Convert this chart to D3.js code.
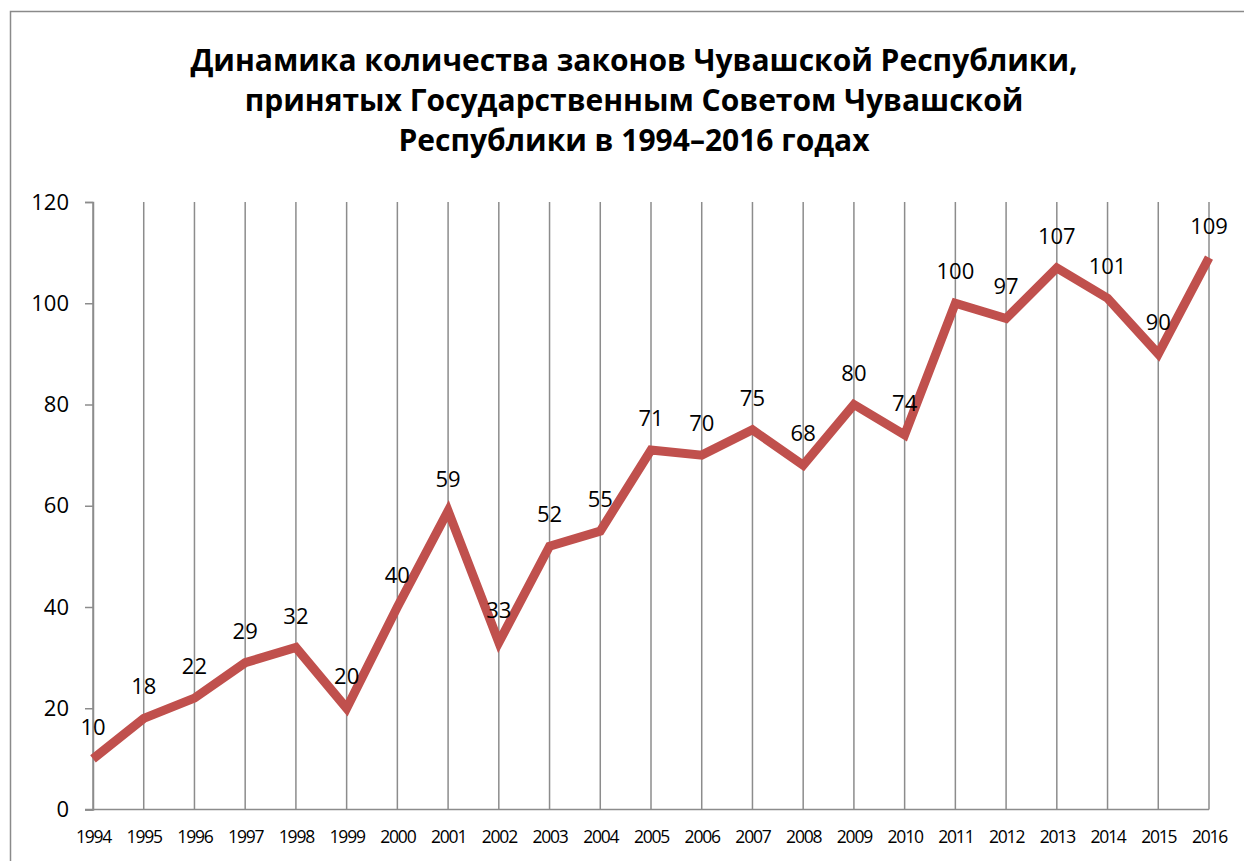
<!DOCTYPE html>
<html>
<head>
<meta charset="utf-8">
<script src="https://cdn.jsdelivr.net/npm/d3@7"></script>
<style>
  body { margin: 0; background: #fff; }
  svg { display: block; }
</style>
</head>
<body>
<div id="chart"></div>
<script>
(function() {

  let width  = 1244,
      height = 861;

  // data
  const years  = ["1994","1995","1996","1997","1998","1999","2000","2001","2002","2003","2004",
                  "2005","2006","2007","2008","2009","2010","2011","2012","2013","2014","2015","2016"];
  const laws   = [10,18,22,29,32,20,40,59,33,52,55,71,70,75,68,80,74,100,97,107,101,90,109];
  const yTicks = [0,20,40,60,80,100,120];
  const titleLines = [
    "Динамика количества законов Чувашской Республики,",
    "принятых Государственным Советом Чувашской",
    "Республики в 1994–2016 годах"
  ];

  let margin = {left: 93, right: 1244 - 1209, top: 202, bottom: 861 - 809.5};

  let svg = d3.select('#chart')
    .append ("svg")
    .attr   ("width", width)
    .attr   ("height", height);

  // outer frame (runs off the right and bottom edge like the source)
  svg.append("rect")
    .attr("x", 10.5).attr("y", 11.5)
    .attr("width", 1300).attr("height", 900)
    .attr("fill", "none")
    .attr("stroke", "#8a8a8a")
    .attr("stroke-width", 1.5);

  // title
  svg.append("text")
    .attr("text-anchor", "middle")
    .attr("font-family", "'Open Sans', sans-serif")
    .attr("font-weight", "bold")
    .attr("font-size", 30)
    .attr("fill", "#000")
    .selectAll("tspan")
    .data(titleLines)
    .enter().append("tspan")
    .attr("x", 634)
    .attr("y", (d, i) => 71 + i * 40)
    .text(d => d);

  // scales: categories sit on the gridlines
  let x = d3.scalePoint()
    .domain(years)
    .range([margin.left, width - margin.right]);

  let y = d3.scaleLinear()
    .domain([0, 120])
    .range([height - margin.bottom, margin.top]);

  // vertical gridlines at every year
  svg.append("g")
    .selectAll("line")
    .data(years)
    .enter().append("line")
    .attr("x1", d => x(d)).attr("x2", d => x(d))
    .attr("y1", y(120)).attr("y2", y(0))
    .attr("stroke", "#8c8c8c")
    .attr("stroke-width", 1.5);

  // y axis
  let yAxis = svg.append("g")
    .attr("transform", `translate(${margin.left},0)`)
    .call(d3.axisLeft(y).tickValues(yTicks).tickSize(8).tickPadding(16));
  yAxis.select(".domain").attr("stroke", "#8c8c8c").attr("stroke-width", 1.5);
  yAxis.selectAll(".tick line").attr("stroke", "#8c8c8c").attr("stroke-width", 1.5);
  yAxis.selectAll(".tick text")
    .attr("font-family", "'Open Sans', sans-serif")
    .attr("font-size", 22)
    .attr("fill", "#000");

  // x axis
  let xAxis = svg.append("g")
    .attr("transform", `translate(0,${y(0)})`)
    .call(d3.axisBottom(x).tickSize(0).tickPadding(21));
  xAxis.select(".domain")
    .attr("d", `M${margin.left - 8},0H${width - margin.right}`)
    .attr("stroke", "#8c8c8c").attr("stroke-width", 1.5);
  xAxis.selectAll(".tick text")
    .attr("font-family", "'Open Sans', sans-serif")
    .attr("font-size", 17.5)
    .attr("letter-spacing", "-1.2px")
    .attr("fill", "#000");

  // the line
  let line = d3.line()
    .x((d, i) => x(years[i]))
    .y(d => y(d));

  svg.append("path")
    .datum(laws)
    .attr("d", line)
    .attr("fill", "none")
    .attr("stroke", "#c0504d")
    .attr("stroke-width", 9)
    .attr("stroke-linejoin", "miter");

  // value labels above the points
  svg.append("g")
    .selectAll("text")
    .data(laws)
    .enter().append("text")
    .attr("x", (d, i) => x(years[i]))
    .attr("y", d => y(d) - 24)
    .attr("text-anchor", "middle")
    .attr("font-family", "'Open Sans', sans-serif")
    .attr("font-size", 22)
    .attr("fill", "#000")
    .text(d => d);

})();
</script>
</body>
</html>
